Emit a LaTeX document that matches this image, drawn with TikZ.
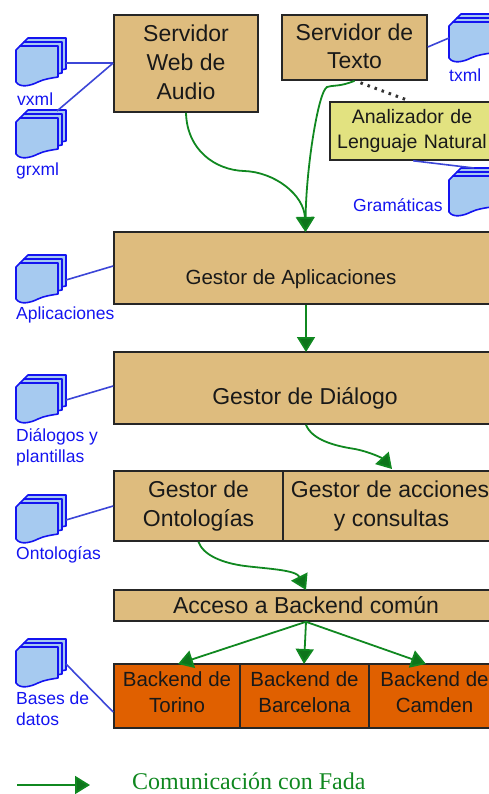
\documentclass[tikz,border=0pt]{standalone}
\usepackage{fontspec}
\setmainfont{Liberation Sans}
\newfontfamily\serifface{Liberation Serif}
\usetikzlibrary{arrows.meta}
\definecolor{tan}{RGB}{222,188,126}
\definecolor{khaki}{RGB}{226,226,128}
\definecolor{rust}{RGB}{224,96,0}
\definecolor{flow}{RGB}{16,136,32}
\definecolor{link}{RGB}{60,70,215}
\definecolor{docfill}{RGB}{166,202,240}
\definecolor{labelblue}{RGB}{20,20,240}
\tikzset{
  x=1pt,y=-1pt,
  boxbase/.style={draw=black!85,line width=1.6pt,inner sep=0pt,align=center,text=black!90},
  tanbox/.style={boxbase,fill=tan,font=\fontsize{23}{29}\selectfont},
  lowtext/.style={text height=36pt,text depth=4pt},
  khakibox/.style={boxbase,fill=khaki,font=\fontsize{19.5}{25.5}\selectfont},
  rustbox/.style={boxbase,fill=rust,font=\fontsize{20.5}{26}\selectfont},
  flowarrow/.style={draw=flow,line width=1.8pt,-{Triangle[length=15pt,width=18pt,fill=flow!85!black]}},
  linkline/.style={draw=link,line width=1.6pt},
  doclabel/.style={text=labelblue,font=\fontsize{17.5}{21}\selectfont,align=left,inner sep=0pt},
  docsheet/.style={draw=labelblue,line width=1.6pt,fill=docfill,line join=round},
  docstack/.pic={
    \foreach \d in {8,4,0}{
      \draw[docsheet,shift={(\d,-\d)}] (0,12) -- (0,44) .. controls (4,50) and (14,48) .. (22,44)
        .. controls (28,41) and (36,40) .. (42,39) -- (42,8) -- (4,8) -- cycle;
    }
  }
}
\begin{document}
\begin{tikzpicture}
\useasboundingbox (0,0) rectangle (488,794);
% document icons
\pic at (16,38) {docstack};
\pic at (16,110) {docstack};
\pic at (449,14) {docstack};
\pic at (449,168) {docstack};
\pic at (16,255) {docstack};
\pic at (16,375) {docstack};
\pic at (16,495) {docstack};
\pic at (16,639) {docstack};
\coordinate (ivxml) at (66,63);
\coordinate (igrxml) at (57,111);
\coordinate (itxml) at (449,38);
\coordinate (igram) at (474,168);
\coordinate (iapl) at (66,280);
\coordinate (idial) at (66,400);
\coordinate (ionto) at (66,520);
\coordinate (ibases) at (66,664);
% boxes
\node[tanbox,minimum width=144pt,minimum height=97pt] (web) at (186,63.5) {\raisebox{2pt}{Servidor}\\\raisebox{2pt}{Web de}\\\raisebox{2pt}{Audio}};
\node[tanbox,minimum width=145pt,minimum height=65pt,font=\fontsize{23}{28}\selectfont] (texto) at (354.5,47.5) {\raisebox{2pt}{Servidor de}\\\raisebox{2pt}{Texto}};
\node[khakibox,minimum width=170pt,minimum height=58pt,text width=168pt] (anl) at (415,131) {\hspace*{-6pt}Analizador de\\\hspace*{-6pt}Lenguaje Natural};
\node[tanbox,lowtext,minimum width=386pt,minimum height=72pt,font=\fontsize{20.5}{26}\selectfont] (apl) at (307,268) {\hspace*{-32pt}Gestor de Aplicaciones};
\node[tanbox,lowtext,minimum width=386pt,minimum height=72pt] (dial) at (307,388) {\hspace*{-4pt}Gestor de Diálogo};
\node[tanbox,minimum width=169pt,minimum height=70pt] (onto) at (198.5,506) {Gestor de\\Ontologías};
\node[tanbox,minimum width=217pt,minimum height=70pt] (acc) at (391.5,506) {\hspace*{-3pt}Gestor de acciones\\y consultas};
\node[tanbox,minimum width=386pt,minimum height=31pt] (acceso) at (307,605.5) {\hspace*{-2pt}Acceso a Backend común};
\node[rustbox,minimum width=126pt,minimum height=64pt] (tor) at (177,696) {\raisebox{7pt}{Backend de}\\\raisebox{7pt}{Torino}};
\node[rustbox,minimum width=129pt,minimum height=64pt] (bar) at (304.5,696) {\raisebox{7pt}{Backend de}\\\raisebox{7pt}{Barcelona}};
\node[rustbox,minimum width=131pt,minimum height=64pt] (cam) at (434.5,696) {\raisebox{7pt}{Backend de}\\\raisebox{7pt}{Camden}};
% doc labels
\node[doclabel,anchor=west] (lvxml) at (17,99) {vxml};
\node[doclabel,anchor=west] (lgrxml) at (16,171) {grxml};
\node[doclabel,anchor=west] (ltxml) at (449,75) {txml};
\node[doclabel,anchor=west] (lgram) at (353,205) {Gramáticas};
\node[doclabel,anchor=west] (lapl) at (16,315) {Aplicaciones};
\node[doclabel,anchor=north west] (ldial) at (16,428) {Diálogos y\\plantillas};
\node[doclabel,anchor=west] (lonto) at (16,555) {Ontologías};
\node[doclabel,anchor=north west] (lbases) at (16,692) {Bases de\\datos};
% links
\draw[linkline] (ivxml) -- (web.west |- ivxml);
\draw[linkline] (igrxml) -- (web.west |- ivxml);
\draw[linkline] (texto.east |- 0,47) -- (itxml);
\draw[linkline] (anl.south west) ++(84,0) -- (igram);
\draw[linkline] (iapl) -- (apl.west |- 0,266);
\draw[linkline] (idial) -- (dial.west |- 0,386);
\draw[linkline] (ionto) -- (onto.west |- 0,506);
\draw[linkline] (ibases) -- (tor.west |- 0,712);
% flows
\draw[flowarrow] (web.south) .. controls (187,150) and (215,170) .. (244,171) .. controls (275,172) and (304,195) .. (305.5,232);
\draw[flowarrow] (texto.south) .. controls (340,87) and (332,85) .. (327,87) .. controls (318,92) and (306,170) .. (305.5,232);
\draw[black!80,line width=3pt,dash pattern=on 2.5pt off 5pt] (texto.south) ++(6,2) -- (407,100);
\draw[flowarrow] (apl.south -| 306,0) -- (306,352);
\draw[flowarrow] (dial.south -| 306,0) .. controls (312,440) and (335,446) .. (355,449) .. controls (370,452) and (382,458) .. (392,469);
\draw[flowarrow] (onto.south) .. controls (203,555) and (222,563) .. (245,566) .. controls (270,569) and (296,570) .. (306,590);
\draw[flowarrow] (acceso.south -| 306,0) -- (178,664);
\draw[flowarrow] (acceso.south -| 306,0) -- (304,664);
\draw[flowarrow] (acceso.south -| 306,0) -- (426,664);
% legend
\coordinate (lega) at (17,785);
\coordinate (legb) at (90,785);
\draw[flowarrow] (lega) -- (legb);
\node[anchor=west,text=flow,inner sep=0pt,font=\serifface\fontsize{24}{26}\selectfont] (legt) at (132,781.5) {Comunicación con Fada};
\end{tikzpicture}
\end{document}
